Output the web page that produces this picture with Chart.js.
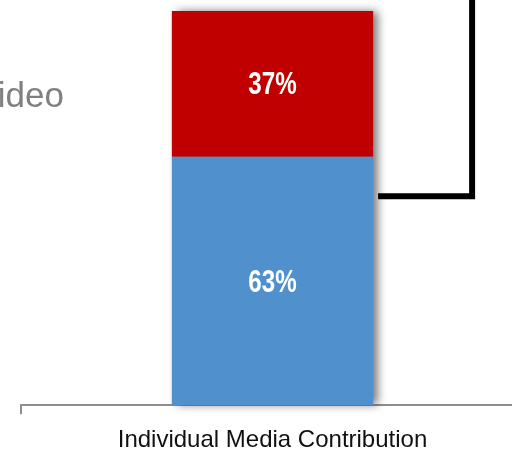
<!DOCTYPE html>
<html>
<head>
<meta charset="utf-8">
<script src="https://cdn.jsdelivr.net/npm/chart.js@4.4.1/dist/chart.umd.min.js"></script>
<style>
  html, body { margin: 0; padding: 0; background: #fff; overflow: hidden; }
  #wrap { position: relative; width: 540px; height: 467px; }
</style>
</head>
<body>
<div id="wrap"><canvas id="chart"></canvas></div>
<script>
// Media-mix breakdown: one stacked column, percent shares
const categories = ['Individual Media Contribution'];
const seriesNames = ['Other', 'Video'];
const otherShare = [63];
const videoShare = [37];
const colors = ['#4F90CD', '#C00000'];
const bracketLevel = 53; // where the connector leaves the column

// drop shadow behind the whole column, then the white % labels on each segment
const columnDecor = {
  id: 'columnDecor',
  beforeDatasetsDraw(chart) {
    const ctx = chart.ctx;
    const bottom = chart.getDatasetMeta(0).data[0];
    const top = chart.getDatasetMeta(1).data[0];
    if (!bottom || !top) return;
    ctx.save();
    ctx.shadowColor = 'rgba(0,0,0,0.55)';
    ctx.shadowBlur = 9;
    ctx.shadowOffsetX = 5;
    ctx.fillStyle = '#888';
    ctx.fillRect(top.x - top.width / 2, top.y, top.width, bottom.base - top.y);
    ctx.restore();
  },
  afterDatasetsDraw(chart) {
    const ctx = chart.ctx;
    chart.data.datasets.forEach((ds, i) => {
      chart.getDatasetMeta(i).data.forEach((bar, j) => {
        // condensed bold look: squeeze the glyphs horizontally
        ctx.save();
        ctx.translate(bar.x, (bar.y + bar.base) / 2);
        ctx.scale(0.78, 1);
        ctx.fillStyle = '#fff';
        ctx.font = 'bold 31px "Liberation Sans", Arial, sans-serif';
        ctx.textAlign = 'center';
        ctx.textBaseline = 'middle';
        ctx.fillText(ds.data[j] + '%', 0, 2);
        ctx.restore();
      });
    });
  },
  afterDraw(chart) {
    const ctx = chart.ctx;
    const bar = chart.getDatasetMeta(0).data[0];
    const y = chart.scales.y.getPixelForValue(bracketLevel);
    const x0 = bar.x + bar.width / 2 + 5;
    const x1 = x0 + 94;
    ctx.save();
    ctx.strokeStyle = '#000';
    ctx.lineWidth = 6;
    ctx.lineJoin = 'miter';
    ctx.beginPath();
    ctx.moveTo(x0, y);
    ctx.lineTo(x1, y);
    ctx.lineTo(x1, -10);
    ctx.stroke();
    // series name, sitting left of the column
    ctx.fillStyle = '#808080';
    ctx.font = '35px "Liberation Sans", Arial, sans-serif';
    ctx.textAlign = 'left';
    ctx.textBaseline = 'alphabetic';
    ctx.fillText(seriesNames[1], -25, 107);
    ctx.restore();
  }
};

new Chart(document.getElementById('chart'), {
  type: 'bar',
  data: {
    labels: categories,
    datasets: [
      { label: seriesNames[0], data: otherShare, backgroundColor: colors[0] },
      { label: seriesNames[1], data: videoShare, backgroundColor: colors[1] }
    ]
  },
  options: {
    responsive: true,
    maintainAspectRatio: false,
    animation: false,
    layout: { padding: { top: 11, left: 21, right: 16, bottom: 0 } },
    datasets: { bar: { categoryPercentage: 1, barPercentage: 0.4 } },
    plugins: { legend: { display: false }, tooltip: { enabled: false } },
    scales: {
      x: {
        stacked: true,
        border: { display: true, color: '#8f8f8f', width: 2 },
        grid: { display: true, offset: true, drawOnChartArea: false, tickLength: 9, color: '#8f8f8f', lineWidth: 2 },
        ticks: { color: '#111', padding: 12, font: { size: 24, family: '"Liberation Sans", Arial, sans-serif' } }
      },
      y: {
        stacked: true,
        display: false,
        min: 0,
        max: 100
      }
    }
  },
  plugins: [columnDecor]
});
</script>
</body>
</html>
